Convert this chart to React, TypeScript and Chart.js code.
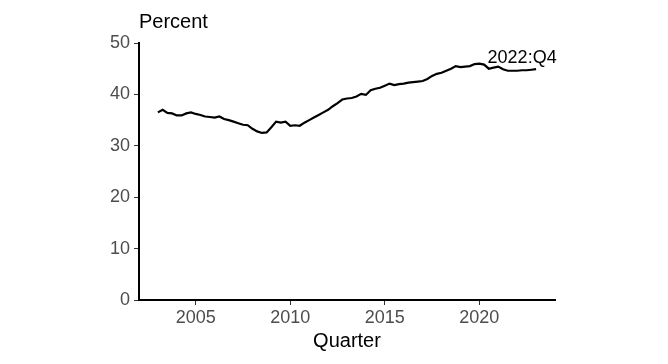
import React, { useEffect, useRef } from "react";
import { Chart, registerables } from "chart.js";

Chart.register(...registerables);

// Quarters run from 2002:Q4 to 2022:Q4; each is plotted at the end of its quarter.
const firstYear = 2002;
const firstQuarter = 4;
const quarterCount = 81;

const shareValues = [
  36.5, 37.0, 36.4, 36.3, 35.9, 35.9, 36.3, 36.5, 36.2, 36.0,
  35.7, 35.6, 35.5, 35.7, 35.2, 35.0, 34.7, 34.4, 34.1, 34.0,
  33.3, 32.8, 32.5, 32.6, 33.6, 34.7, 34.5, 34.7, 33.9, 34.0,
  33.9, 34.5, 35.0, 35.5, 36.0, 36.5, 37.0, 37.7, 38.3, 39.0,
  39.2, 39.3, 39.6, 40.1, 39.9, 40.8, 41.1, 41.3, 41.7, 42.1,
  41.8, 42.0, 42.1, 42.3, 42.4, 42.5, 42.6, 43.0, 43.6, 44.0,
  44.2, 44.6, 45.0, 45.5, 45.3, 45.4, 45.5, 45.9, 46.0, 45.8,
  45.0, 45.2, 45.4, 44.9, 44.6, 44.6, 44.6, 44.7, 44.7, 44.8,
  44.9,
];

const xTickValues = [2005, 2010, 2015, 2020];
const yTickValues = [0, 10, 20, 30, 40, 50];
const xMin = 2002;
const xMax = 2024;
const yTitle = "Percent";
const xTitle = "Quarter";
const endLabel = "2022:Q4";

function buildQuarterLabels(): string[] {
  const out: string[] = [];
  let y = firstYear;
  let q = firstQuarter;
  for (let i = 0; i < quarterCount; i++) {
    out.push(`${y}:Q${q}`);
    q++;
    if (q > 4) {
      q = 1;
      y++;
    }
  }
  return out;
}

const quarterLabels = buildQuarterLabels();

function quarterToYear(label: string): number {
  const [y, q] = label.split(":Q");
  return Number(y) + Number(q) / 4;
}

const FONT = '"Liberation Sans", Arial, Helvetica, sans-serif';

export default function App() {
  const canvasRef = useRef<HTMLCanvasElement | null>(null);

  useEffect(() => {
    const canvas = canvasRef.current;
    if (!canvas) return;

    const points = quarterLabels.map((lab, i) => ({
      x: quarterToYear(lab),
      y: shareValues[i],
    }));

    const textPlugin = {
      id: "textPlugin",
      afterDraw(chart: any) {
        const { ctx, chartArea, scales } = chart;
        ctx.save();
        ctx.fillStyle = "#000000";
        ctx.textBaseline = "alphabetic";
        ctx.font = `20px ${FONT}`;
        ctx.textAlign = "left";
        ctx.fillText(yTitle, chartArea.left, chartArea.top - 15.5);
        ctx.textAlign = "center";
        ctx.fillText(xTitle, (chartArea.left + chartArea.right) / 2, chartArea.bottom + 46.5);
        const last = points[points.length - 1];
        const px = scales.x.getPixelForValue(last.x);
        const py = scales.y.getPixelForValue(last.y);
        ctx.font = `18px ${FONT}`;
        ctx.textAlign = "left";
        ctx.fillText(endLabel, px - 48.5, py - 6);
        ctx.restore();
      },
    };

    const chart = new Chart(canvas, {
      type: "line",
      data: {
        datasets: [
          {
            data: points,
            borderColor: "#000000",
            borderWidth: 2.2,
            pointRadius: 0,
            tension: 0,
            fill: false,
          },
        ],
      },
      options: {
        responsive: false,
        animation: false,
        layout: { padding: { left: 0, right: 113, top: 43, bottom: 0 } },
        plugins: {
          legend: { display: false },
          tooltip: { enabled: false },
          title: { display: false },
        },
        scales: {
          x: {
            type: "linear",
            min: xMin,
            max: xMax,
            afterFit(scale: any) {
              scale.height = 64;
            },
            afterBuildTicks(scale: any) {
              scale.ticks = xTickValues.map((v) => ({ value: v }));
            },
            grid: {
              display: true,
              drawOnChartArea: false,
              drawTicks: true,
              tickLength: 5,
              color: "#333333",
              lineWidth: 1,
            },
            border: { display: true, color: "#000000", width: 2 },
            ticks: {
              color: "#4d4d4d",
              font: { family: FONT, size: 18 },
              padding: 2,
              maxRotation: 0,
              autoSkip: false,
              callback: (v: any) => String(v),
            },
          },
          y: {
            type: "linear",
            min: yTickValues[0],
            max: yTickValues[yTickValues.length - 1],
            afterFit(scale: any) {
              scale.width = 139;
            },
            afterBuildTicks(scale: any) {
              scale.ticks = yTickValues.map((v) => ({ value: v }));
            },
            grid: {
              display: true,
              drawOnChartArea: false,
              drawTicks: true,
              tickLength: 5,
              color: "#333333",
              lineWidth: 1,
            },
            border: { display: true, color: "#000000", width: 2 },
            ticks: {
              color: "#4d4d4d",
              font: { family: FONT, size: 18 },
              padding: 4,
              callback: (v: any) => String(v),
            },
          },
        },
      },
      plugins: [textPlugin],
    } as any);

    return () => chart.destroy();
  }, []);

  return (
    <div style={{ position: "fixed", left: 0, top: 0, width: 668, height: 364, background: "#ffffff" }}>
      <canvas ref={canvasRef} width={668} height={364} style={{ display: "block" }} />
    </div>
  );
}
